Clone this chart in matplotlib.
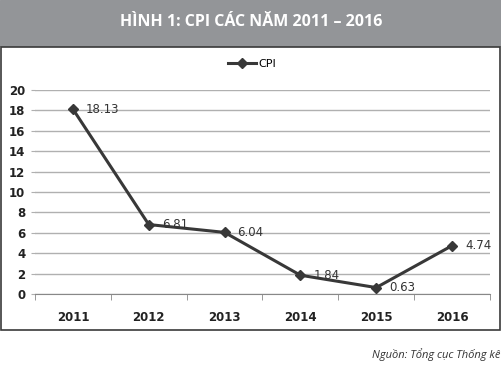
import matplotlib.pyplot as plt
from matplotlib.patches import Rectangle

years = ['2011', '2012', '2013', '2014', '2015', '2016']
cpi = [18.13, 6.81, 6.04, 1.84, 0.63, 4.74]
yticks = [0, 2, 4, 6, 8, 10, 12, 14, 16, 18, 20]

W, H = 502, 369
fig = plt.figure(figsize=(W / 100, H / 100), dpi=100)

# header band + framed box
fig.patches.append(Rectangle((0, 1 - 46 / H), 1, 46 / H, transform=fig.transFigure,
                             color='#939598', zorder=-2))
fig.patches.append(Rectangle((1 / W, 1 - 330 / H), 499 / W, 283 / H, transform=fig.transFigure,
                             facecolor='white', edgecolor='#3a3a3a', lw=1.2, zorder=-2))
fig.text(0.5, 1 - 22 / H, 'HÌNH 1: CPI CÁC NĂM 2011 – 2016', color='white',
         ha='center', va='center', fontsize=11.5, fontweight='bold', family='Open Sans')
fig.text(500 / W, 1 - 355 / H, 'Nguồn: Tổng cục Thống kê', ha='right', va='center',
         fontsize=8, style='italic', family='Open Sans', color='#333333')

ax = fig.add_axes([35 / W, 1 - 294 / H, 455 / W, 204 / H])
ax.set_zorder(2)
ax.patch.set_alpha(0)
x = range(len(years))
ax.plot(x, cpi, color='#383838', lw=2.2, marker='D', markersize=5.5, label='CPI', zorder=3)
for i, v in enumerate(cpi):
    ax.text(i + 0.17, v, f'{v:.2f}', va='center', ha='left', fontsize=8.5,
            color='#333333', zorder=4)

ax.set_xlim(-0.5, len(years) - 0.5)
ax.set_ylim(0, 20)
ax.set_yticks(yticks)
ax.set_xticks(list(x))
ax.set_xticklabels(years)
ax.set_xticks([i - 0.5 for i in range(len(years) + 1)], minor=True)
ax.tick_params(axis='x', which='major', length=0, pad=12, labelsize=8.5, colors='#222222')
ax.tick_params(axis='x', which='minor', length=4, color='#888888')
ax.tick_params(axis='y', length=3, color='#b0b0b0', labelsize=8.5, colors='#222222', pad=4)
for lab in ax.get_xticklabels() + ax.get_yticklabels():
    lab.set_fontweight('bold')
ax.grid(axis='y', color='#b0b0b0', lw=1)
ax.set_axisbelow(True)
for s in ['top', 'right', 'left']:
    ax.spines[s].set_visible(False)
ax.spines['bottom'].set_color('#888888')

fig.legend(loc='center', bbox_to_anchor=(252 / W, 1 - 64 / H), frameon=False,
           fontsize=8, handlelength=2.5, handletextpad=0.2)

fig.savefig('out.png', dpi=100)
